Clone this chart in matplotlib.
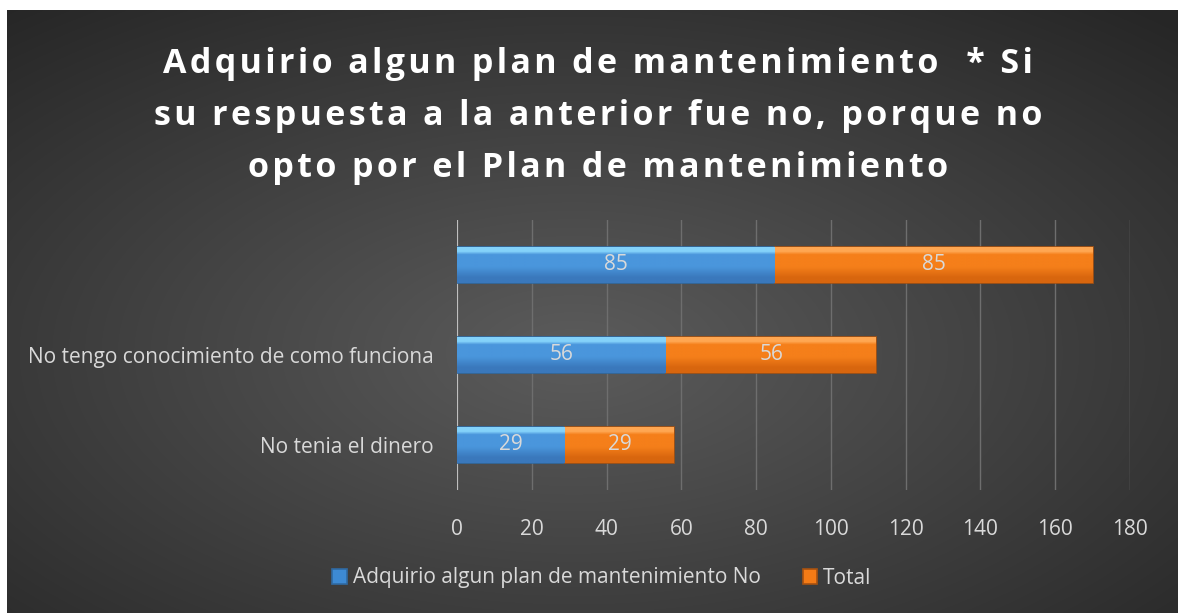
import numpy as np
import matplotlib.pyplot as plt
from matplotlib.colors import to_rgb

categories = ["No tenia el dinero", "No tengo conocimiento de como funciona", ""]
serie_no = [29, 56, 85]
serie_total = [29, 56, 85]
series_names = ["Adquirio algun plan de mantenimiento No", "Total"]
ticks = list(range(0, 181, 20))

TITLE_LINES = ["Adquirio algun plan de mantenimiento  * Si",
               "su respuesta a la anterior fue no, porque no",
               "opto por el Plan de mantenimiento"]

W, H = 1178, 613
fig = plt.figure(figsize=(W / 100, H / 100), dpi=100)
fig.patch.set_facecolor("white")

# fondo oscuro con degradado radial
bg = fig.add_axes([7 / W, 0, 1 - 7 / W, 1 - 10 / H])
bg.set_axis_off()
yy, xx = np.mgrid[0:300, 0:600]
cx, cy = 290, 170
d = np.sqrt(((xx - cx) / 600) ** 2 + ((yy - cy) / 300) ** 2)
d = np.clip(d / 0.75, 0, 1)
val = 0.36 - 0.21 * d
bg.imshow(np.dstack([val, val, val]), aspect="auto", extent=[0, 1, 0, 1],
          interpolation="bilinear")

txt = "#d9d9d9"
# espaciado entre letras con espacios finos
hs = "\u200a"
title = "\n".join(hs.join(line) for line in TITLE_LINES)
fig.text(0.508, 1 - 116 / H, title, ha="center", va="center", color="white",
         fontsize=24.5, fontweight="bold", family=["Open Sans", "DejaVu Sans"],
         linespacing=1.7)

ax = fig.add_axes([457 / W, 1 - 490 / H, (1130 - 457) / W, (490 - 220) / H])
ax.set_facecolor("none")
y = np.arange(len(categories))
h = 0.39
b1 = ax.barh(y, serie_no, height=h, color="#3d8ad4", edgecolor="#2f6aa3", lw=1.2,
             label=series_names[0], zorder=3)
b2 = ax.barh(y, serie_total, left=serie_no, height=h, color="#f47b16", edgecolor="#a85210",
             lw=1.2, label=series_names[1], zorder=3)


def shade(bars, top, mid, bottom):
    # degradado vertical tipo bisel
    prof = np.array([0, 0.12, 0.2, 0.55, 0.85, 1.0])
    cols = np.array([to_rgb(top), to_rgb(top), to_rgb(mid), to_rgb(mid),
                     to_rgb(bottom), to_rgb(bottom)])
    t = np.linspace(0, 1, 60)
    grad = np.stack([np.interp(t, prof, cols[:, k]) for k in range(3)], axis=1)
    grad = grad[:, None, :]
    for r in bars:
        x0, y0, w_ = r.get_x(), r.get_y(), r.get_width()
        im = ax.imshow(grad, aspect="auto", extent=[x0, x0 + w_, y0, y0 + h],
                       origin="upper", zorder=3.5, interpolation="bilinear")
        im.set_clip_path(r)


shade(b1, "#84d2fa", "#4a96dc", "#3a78bc")
shade(b2, "#ffa752", "#f57f1a", "#d8660e")

FS = 15
for bars in (b1, b2):
    for r in bars:
        ax.text(r.get_x() + r.get_width() / 2, r.get_y() + h / 2, f"{int(r.get_width())}",
                ha="center", va="center", color=txt, fontsize=FS, family="Open Sans", zorder=5)

ax.set_xlim(0, 180)
ax.set_ylim(-0.5, 2.5)
ax.set_xticks(ticks)
ax.set_yticks(y)
ax.set_yticklabels(categories)
ax.tick_params(colors=txt, labelsize=FS, length=0)
ax.tick_params(axis="x", pad=21)
ax.tick_params(axis="y", pad=17)
for lab in ax.get_xticklabels() + ax.get_yticklabels():
    lab.set_family("Open Sans")
ax.grid(axis="x", color="#6e6e6e", lw=1, zorder=0)
for s in ax.spines.values():
    s.set_visible(False)
ax.axvline(0, color="#bfbfbf", lw=1.5, zorder=2)

leg = fig.legend(handles=[b1, b2], loc="center", bbox_to_anchor=(0.511, 1 - 578 / H), ncol=2,
                 frameon=False, handlelength=0.7, handleheight=0.7,
                 handletextpad=0.3, columnspacing=2.0, prop={"family": "Open Sans", "size": FS})
for t in leg.get_texts():
    t.set_color(txt)

fig.savefig("out.png", dpi=100)
